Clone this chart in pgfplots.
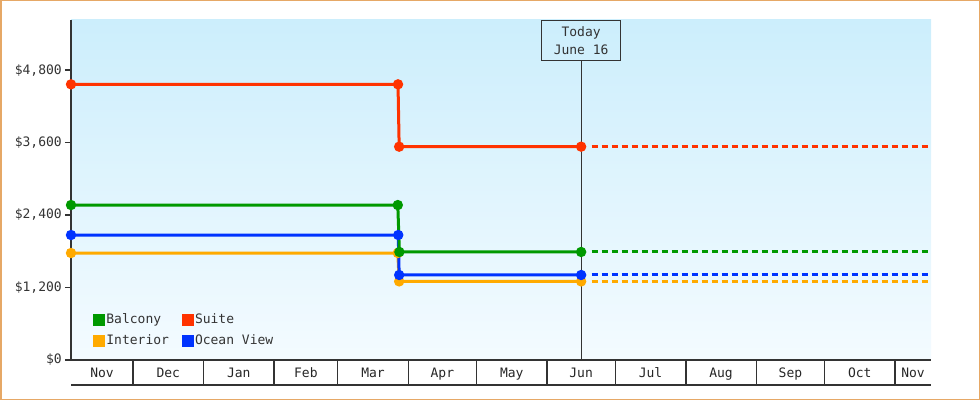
\documentclass[border=0pt]{standalone}
\usepackage{fontspec}
\setmainfont{DejaVu Sans Mono}
\usepackage{pgfplots}
\pgfplotsset{compat=1.18}

\definecolor{cBalc}{RGB}{0,153,0}
\definecolor{cSuite}{RGB}{255,51,0}
\definecolor{cInt}{RGB}{255,170,0}
\definecolor{cOcean}{RGB}{0,51,255}
\definecolor{frame}{RGB}{230,168,102}
\definecolor{ink}{RGB}{51,51,51}
\definecolor{bgTop}{RGB}{204,238,252}
\definecolor{bgBot}{RGB}{244,251,255}

% price lines: solid up to today, dashed after
\pgfplotsset{
  price/.style={line width=3bp, mark=*, mark size=3.6bp, mark options={solid}},
  ahead/.style={line width=3bp, dash pattern=on 6bp off 4bp},
}

\begin{document}
\begin{tikzpicture}[font=\fontsize{13bp}{18bp}\selectfont]
\useasboundingbox (0,0) rectangle (980bp,400bp);
\draw[frame, line width=1.5bp] (0.75bp,0.75bp) rectangle (979.25bp,399.25bp);
\begin{axis}[
    at={(71bp,40bp)}, anchor=south west,
    scale only axis, width=860bp, height=340bp,
    xmin=2.74, xmax=380.8, ymin=0, ymax=5628,
    clip=false,
    axis background/.style={top color=bgTop, bottom color=bgBot},
    axis x line*=bottom, axis y line*=left,
    x axis line style={-, draw=ink, line width=2bp},
    y axis line style={-, draw=ink, line width=2.5bp},
    tick align=outside, major tick length=6bp,
    xtick={16.4,45.5,76.5,106,135.5,166,196.5,227,257.5,288.5,319,349.5,372.9},
    xticklabels={Nov,Dec,Jan,Feb,Mar,Apr,May,Jun,Jul,Aug,Sep,Oct,Nov},
    x tick style={draw=none},
    xticklabel style={anchor=base, yshift=-11bp, text=black!85},
    ytick={0,1200,2400,3600,4800},
    yticklabels={\$0,{\$1,200},{\$2,400},{\$3,600},{\$4,800}},
    y tick style={draw=ink, line width=1.5bp},
    yticklabel style={inner sep=0pt, xshift=-3bp, text=ink},
    /pgf/number format/assume math mode=true,
    legend columns=2,
    legend cell align=left,
    legend image code/.code={\fill[#1] (0bp,-5.5bp) rectangle (11bp,5.5bp);},
    legend style={draw=none, fill=none, inner sep=0pt,
        at={(rel axis cs:0,0)}, anchor=south west, xshift=22bp, yshift=12bp,
        nodes={inner sep=1.8bp, text=ink},
        row sep=6bp,
        /tikz/every even column/.append style={column sep=11bp}},
]
% legend entries in the reference's order
\addlegendimage{cBalc}\addlegendentry{Balcony}
\addlegendimage{cSuite}\addlegendentry{Suite}
\addlegendimage{cInt}\addlegendentry{Interior}
\addlegendimage{cOcean}\addlegendentry{Ocean View}

% Interior
\addplot[cInt, price, forget plot] coordinates {(2.74,1771) (146.4,1771) (147,1301) (227,1301)};
\addplot[cInt, ahead, forget plot] coordinates {(231.6,1301) (380.8,1301)};
% Ocean View
\addplot[cOcean, price, forget plot] coordinates {(2.74,2069) (146.6,2069) (147,1407) (227,1407)};
\addplot[cOcean, ahead, forget plot] coordinates {(231.6,1407) (380.8,1407)};
% Balcony
\addplot[cBalc, price, forget plot] coordinates {(2.74,2565) (146.4,2565) (147.1,1788) (227,1788)};
\addplot[cBalc, ahead, forget plot] coordinates {(231.6,1788) (380.8,1788)};
% Suite
\addplot[cSuite, price, forget plot] coordinates {(2.74,4563) (146.5,4563) (147,3531) (227,3531)};
\addplot[cSuite, ahead, forget plot] coordinates {(231.6,3531) (380.8,3531)};

% today marker
\node[draw=ink, line width=1bp, anchor=north, minimum width=79bp, minimum height=40bp,
      align=center, text=ink, inner sep=0pt] (today) at (axis cs:227,5628) {Today\\June 16};
\draw[ink, line width=1bp] (axis cs:227,0) -- (today.south);

% month band below the axis
\pgfplotsinvokeforeach{30,61,92,120,151,181,212,242,273,304,334,365}{
  \draw[ink, line width=1.5bp] (axis cs:#1,0) -- ([yshift=-25bp]axis cs:#1,0);
}
\draw[ink, line width=2bp] ([yshift=-25bp]rel axis cs:0,0) -- ([yshift=-25bp]rel axis cs:1,0);
\end{axis}
\end{tikzpicture}
\end{document}
